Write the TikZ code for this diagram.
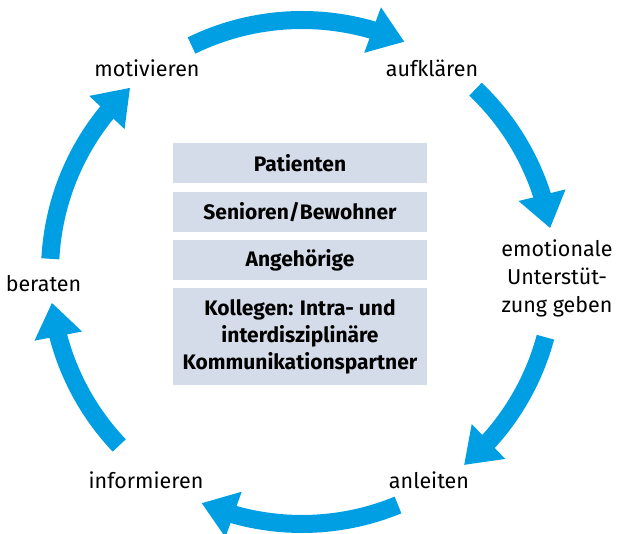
\documentclass[tikz,border=0pt]{standalone}
\usepackage{fontspec}
\setmainfont{Fira Sans}
\usetikzlibrary{arrows.meta,bending}
\definecolor{cycblue}{RGB}{0,159,227}
\definecolor{boxfill}{RGB}{213,220,233}
\begin{document}
\begin{tikzpicture}[x=1pt,y=1pt,
  lbl/.style={font=\fontsize{21.5}{28}\selectfont, align=center, inner sep=0pt},
  box/.style={fill=boxfill, minimum width=254pt, font=\fontsize{21}{27}\selectfont\bfseries, align=center, inner sep=0pt},
  cyc/.style={draw=cycblue, line width=18pt, -{Triangle[length=34pt,width=46pt]}}]
\useasboundingbox (0,0) rectangle (617,534);
\coordinate (c) at (302,262);
% central boxes
\node[box, minimum height=40pt] (b1) at (300,371) {Patienten};
\node[box, minimum height=40pt] (b2) at (300,322) {Senioren/Bewohner};
\node[box, minimum height=40pt] (b3) at (300,274) {Angehörige};
\node[box, minimum height=97pt] (b4) at (300,197.5) {Kollegen: Intra- und\\interdisziplinäre\\Kommunikationspartner};
% labels
\node[lbl] (mot) at (147,466) {motivieren};
\node[lbl] (auf) at (432,466) {aufklären};
\node[lbl] (emo) at (557,256) {emotionale\\Unterstüt-\\zung geben};
\node[lbl] (ber) at (43.5,250) {beraten};
\node[lbl] (inf) at (146,54) {informieren};
\node[lbl] (anl) at (429,54) {anleiten};
% cycle arrows
\draw[cyc] ([shift={(116:252)}]c) arc[start angle=116, end angle=66, radius=252];
\draw[cyc] ([shift={(46.5:252)}]c) arc[start angle=46.5, end angle=10, radius=252];
\draw[cyc] ([shift={(-15:252)}]c) arc[start angle=-15, end angle=-50, radius=252];
\draw[cyc] ([shift={(-67.6:252)}]c) arc[start angle=-67.6, end angle=-113.5, radius=252];
\draw[cyc] ([shift={(223.5:252)}]c) arc[start angle=223.5, end angle=187, radius=252];
\draw[cyc] ([shift={(177:252)}]c) arc[start angle=177, end angle=133, radius=252];
\end{tikzpicture}
\end{document}
